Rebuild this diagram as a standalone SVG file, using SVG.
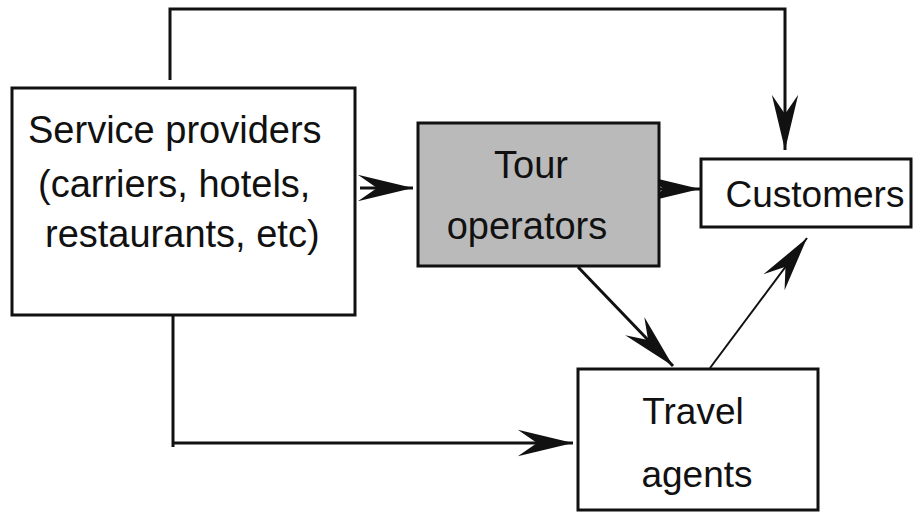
<svg xmlns="http://www.w3.org/2000/svg" width="914" height="512" viewBox="0 0 914 512">
<style>
.box{fill:#fff;stroke:#111;stroke-width:3}
.shade{fill:#bababa;stroke:#111;stroke-width:3}
.t{font-family:"Liberation Sans",Arial,sans-serif;fill:#111}
.c{fill:none;stroke:#111;stroke-width:3}
.thin{fill:none;stroke:#111;stroke-width:2}
</style>
<defs>
<marker id="ah" markerUnits="userSpaceOnUse" markerWidth="60" markerHeight="30" viewBox="-48 -12 50 24" refX="0" refY="0" orient="auto">
<path d="M0,0 L-46,-11 L-30,0 L-46,11 Z" fill="#111"/>
</marker>
</defs>
<g id="connectors">
<polyline class="c" points="170,80 170,9 785,9 785,150" marker-end="url(#ah)"/>
<line class="c" x1="360" y1="188" x2="413" y2="188" marker-end="url(#ah)"/>
<line class="c" x1="657" y1="189" x2="700" y2="189" marker-end="url(#ah)"/>
<line class="c" x1="578" y1="267" x2="673" y2="366" marker-end="url(#ah)"/>
<line class="thin" x1="710" y1="368" x2="807" y2="238" marker-end="url(#ah)"/>
<polyline class="c" points="173,312 173,447"/>
<line class="c" x1="173" y1="443" x2="573" y2="443" marker-end="url(#ah)"/>
</g>
<g id="service-providers">
<rect class="box" x="12" y="88" width="343" height="227"/>
<text class="t" font-size="38" x="28" y="143">Service providers</text>
<text class="t" font-size="38" x="38" y="197">(carriers, hotels,</text>
<text class="t" font-size="38" x="45" y="247">restaurants, etc)</text>
</g>
<g id="tour-operators">
<rect class="shade" x="418" y="123" width="241" height="143"/>
<text class="t" font-size="38" x="531" y="178" text-anchor="middle">Tour</text>
<text class="t" font-size="38" x="527" y="239" text-anchor="middle">operators</text>
</g>
<g id="customers">
<rect class="box" x="701" y="159" width="210" height="68"/>
<text class="t" font-size="37" x="815" y="207" text-anchor="middle">Customers</text>
</g>
<g id="travel-agents">
<rect class="box" x="578" y="369" width="240" height="141"/>
<text class="t" font-size="37" x="693" y="424" text-anchor="middle">Travel</text>
<text class="t" font-size="37" x="697" y="487" text-anchor="middle">agents</text>
</g>
</svg>
